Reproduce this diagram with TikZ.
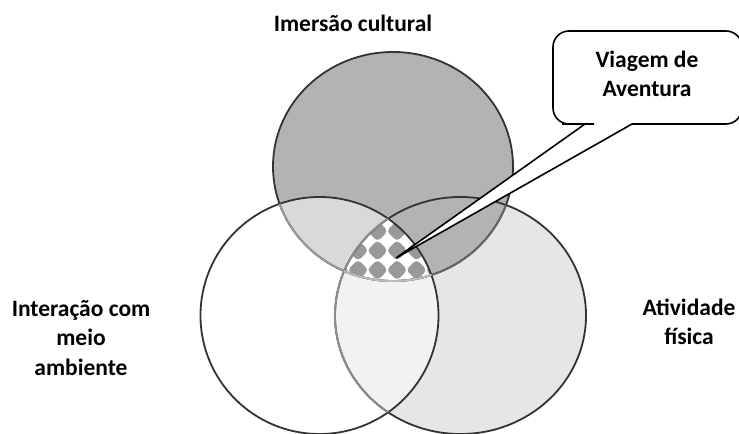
\documentclass[tikz,border=0pt]{standalone}
\usepackage{fontspec}
\setmainfont{Carlito}
\definecolor{ringdark}{HTML}{333333}
\definecolor{topgray}{HTML}{B3B3B3}
\definecolor{topleft}{HTML}{D9D9D9}
\definecolor{rightgray}{HTML}{E6E6E6}
\definecolor{leftright}{HTML}{F2F2F2}
\definecolor{checkgray}{HTML}{999999}
\begin{document}
\begin{tikzpicture}[x=1bp, y=-1bp,
		edge/.style={line width=1.8bp, draw=ringdark},
		lbl/.style={font=\fontsize{23.5bp}{29.5bp}\selectfont\bfseries, align=center, inner sep=0pt},
		callout/.style={line width=1.6bp, draw=black, fill=white}]
		\useasboundingbox (0,0) rectangle (739,434);
		
		% Define the sets
		\coordinate (ct) at (393,166.5);
		\coordinate (cl) at (319.5,315.5);
		\coordinate (cr) at (460.5,315.5);
		\def\topset{(ct) ellipse [x radius=120bp, y radius=114.5bp]}
		\def\leftset{(cl) ellipse [x radius=119bp, y radius=118.5bp]}
		\def\rightset{(cr) ellipse [x radius=125.5bp, y radius=118.5bp]}
		
		% Fills
		\fill[rightgray] \rightset;
		\fill[white] \leftset;
		\begin{scope}
			\clip \leftset;
			\fill[leftright] \rightset;
		\end{scope}
		\fill[topgray] \topset;
		\begin{scope}
			\clip \leftset;
			\fill[topleft] \topset;
		\end{scope}
		
		% Checkers in the middle
		\begin{scope}
			\clip \leftset;
			\clip \rightset;
			\clip \topset;
			\fill[white] \topset;
			\foreach \i in {-1,...,4}
			\foreach \j in {-1,...,3}
			\fill[checkgray, rounded corners=4bp] (358+19.5*\i,231+19.5*\j) +(0,-10.5) -- +(10.5,0) -- +(0,10.5) -- +(-10.5,0) -- cycle;
		\end{scope}
		
		% Outlines
		\draw[edge] \leftset;
		\draw[edge] \rightset;
		\draw[edge] \topset;
		\begin{scope}
			\clip \rightset;
			\draw[edge, draw=black!60] \topset;
		\end{scope}
		\begin{scope}
			\clip \leftset;
			\draw[edge, draw=black!40] \topset;
			\draw[edge, draw=black!45] \rightset;
		\end{scope}
		\begin{scope}
			\clip \leftset;
			\clip \rightset;
			\draw[edge, draw=black!26] \topset;
		\end{scope}
		
		% Labels
		\node[lbl, anchor=base] (cultura) at (353,32) {Imersão cultural};
		\node[lbl] (ambiente) at (81,338) {Interação com\\meio\\ambiente};
		\node[lbl] (fisica) at (689,322) {Atividade\\física};
		
		% Callout
		\coordinate (tip) at (396,258);
		\draw[callout, rounded corners=16bp] (640,31) -- (553,31) -- (553,124) -- (578,124) [sharp corners] -- (585,124) -- (tip) -- (632,124) -- (640,124) [rounded corners=16bp] -- (742,124) -- (742,31) -- cycle;
		\node[lbl] (aventura) at (647,74) {Viagem de\\Aventura};
\end{tikzpicture}
\end{document}
